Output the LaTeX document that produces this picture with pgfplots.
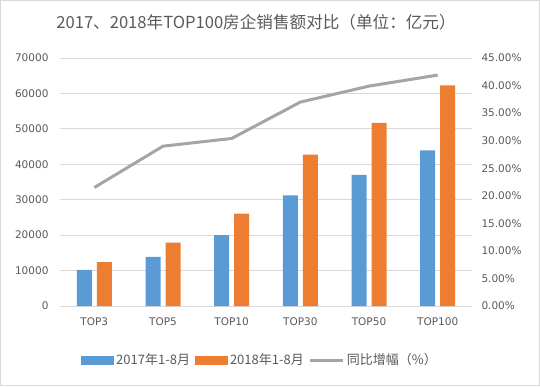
\documentclass[border=0pt]{standalone}
\usepackage{pgfplots}
\pgfplotsset{compat=1.18}
\usepackage{fontspec}
\setmainfont{DejaVu Sans}
\newfontfamily\cjk{Noto Sans CJK SC}
\definecolor{cblue}{HTML}{5B9BD5}
\definecolor{corange}{HTML}{ED7D31}
\definecolor{cgrey}{HTML}{A5A5A5}
\definecolor{ctext}{HTML}{595959}
\definecolor{cgrid}{HTML}{D9D9D9}
\begin{document}
\begin{tikzpicture}[x=1pt,y=1pt]
\useasboundingbox (0,0) rectangle (540,386);
\draw[cgrid,line width=1pt] (0.5,0.5) rectangle (539.5,385.5);
\node[text=ctext,font=\cjk\fontsize{16.6}{19}\selectfont] at (256,364) {2017、2018年TOP100房企销售额对比（单位：亿元）};
\begin{axis}[
  at={(60pt,80pt)}, anchor=south west,
  scale only axis, width=412pt, height=248pt,
  xmin=-0.5, xmax=5.5, ymin=0, ymax=70000,
  xtick=data, xticklabels={TOP3,TOP5,TOP10,TOP30,TOP50,TOP100},
  ytick={0,10000,...,70000},
  /pgf/number format/assume math mode=true,
  /pgf/number format/set thousands separator={},
  scaled y ticks=false,
  ymajorgrids, grid style={cgrid,line width=0.8pt},
  axis x line*=bottom, axis y line*=left,
  x axis line style={cgrid,line width=0.8pt,-},
  y axis line style={draw=none},
  major tick length=0pt,
  tick label style={text=ctext,font=\fontsize{10.5}{13}\selectfont},
  yticklabel style={xshift=-8pt},
  xticklabel style={yshift=-8pt},
  ybar=5pt, bar width=15pt,
  legend style={at={(0.5,0)}, anchor=center, xshift=-6pt, yshift=-54pt, draw=none, fill=none,
    font=\cjk\fontsize{13}{15}\selectfont, text=ctext,
    /tikz/every even column/.append style={column sep=3pt}},
  legend columns=3,
]
\addplot[fill=cblue,draw=none,
  legend image code/.code={\fill[cblue] (0pt,-4.5pt) rectangle (33pt,4.5pt);}]
  coordinates {(0,10200) (1,13900) (2,20000) (3,31200) (4,37000) (5,43900)};
\addlegendentry{2017年1-8月}
\addplot[fill=corange,draw=none,
  legend image code/.code={\fill[corange] (0pt,-4.5pt) rectangle (33pt,4.5pt);}]
  coordinates {(0,12400) (1,17900) (2,26100) (3,42700) (4,51700) (5,62300)};
\addlegendentry{2018年1-8月}
\addlegendimage{legend image code/.code={\draw[cgrey,line width=3pt] (0pt,0pt) -- (33pt,0pt);}}
\addlegendentry{同比增幅（\%）}
\end{axis}
\begin{axis}[
  at={(60pt,80pt)}, anchor=south west,
  scale only axis, width=412pt, height=248pt,
  xmin=-0.5, xmax=5.5, ymin=0, ymax=45,
  axis x line=none, axis y line*=right,
  y axis line style={draw=none},
  ytick={0,5,...,45},
  major tick length=0pt,
  /pgf/number format/assume math mode=true,
  yticklabel={\pgfmathprintnumber[fixed,fixed zerofill,precision=2]{\tick}\%},
  yticklabel style={text=ctext,font=\fontsize{10.5}{13}\selectfont,xshift=6pt},
]
\addplot[cgrey,line width=3pt,mark=none]
  coordinates {(0,21.5) (1,29.0) (2,30.4) (3,37.0) (4,39.9) (5,41.9)};
\end{axis}
\end{tikzpicture}
\end{document}
